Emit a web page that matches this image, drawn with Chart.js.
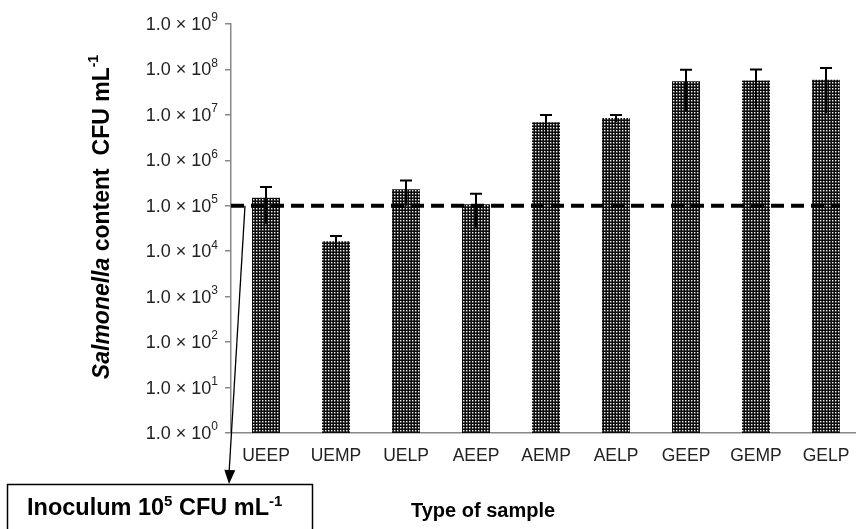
<!DOCTYPE html>
<html>
<head>
<meta charset="utf-8">
<script src="https://cdn.jsdelivr.net/npm/chart.js@4.4.0/dist/chart.umd.min.js"></script>
<style>
  html, body { margin: 0; padding: 0; background: #fff; overflow: hidden; }
  #wrap { width: 862px; height: 529px; position: relative; }
</style>
</head>
<body>
<div id="wrap"><canvas id="c" width="862" height="529"></canvas></div>
<script>
const categories = ['UEEP','UEMP','UELP','AEEP','AEMP','AELP','GEEP','GEMP','GELP'];
const meanCFU = [1.5e5, 1.66e4, 2.3e5, 1.08e5, 6.9e6, 8.5e6, 5.5e7, 5.7e7, 5.9e7];
const sdCFU   = [1.1e5, 0.5e4, 1.3e5, 0.75e5, 3.1e6, 1.5e6, 4.3e7, 4.3e7, 4.8e7];
const inoculum = 1e5;
const tickExponents = [0,1,2,3,4,5,6,7,8,9];

function makePattern(ctx) {
  const p = document.createElement('canvas');
  p.width = 3; p.height = 3;
  const g = p.getContext('2d');
  g.fillStyle = '#0d0d0d';
  g.fillRect(0,0,3,3);
  g.fillStyle = '#f0f0f0';
  g.fillRect(1,1,1,1);
  g.fillStyle = '#6a6a6a';
  g.fillRect(2,1,1,1);
  g.fillRect(1,2,1,1);
  g.fillStyle = '#3a3a3a';
  g.fillRect(2,2,1,1);
  return ctx.createPattern(p, 'repeat');
}

const canvas = document.getElementById('c');
const ctx = canvas.getContext('2d');
const pattern = makePattern(ctx);

const FONT = '"Liberation Sans", Arial, sans-serif';

const decorPlugin = {
  id: 'decor',
  afterDatasetsDraw(chart) {
    const c = chart.ctx;
    const y = chart.scales.y;
    const area = chart.chartArea;
    const meta = chart.getDatasetMeta(0);
    const yi = y.getPixelForValue(inoculum);
    const lastBar = meta.data[meta.data.length - 1];
    c.save();
    c.strokeStyle = '#000';
    c.lineWidth = 4;
    c.setLineDash([13, 7]);
    c.beginPath();
    c.moveTo(area.left, yi);
    c.lineTo(lastBar.x + lastBar.width / 2, yi);
    c.stroke();
    c.restore();
    c.save();
    c.strokeStyle = '#000';
    c.lineWidth = 2;
    meta.data.forEach((bar, i) => {
      const yt = y.getPixelForValue(meanCFU[i] + sdCFU[i]);
      const yb = y.getPixelForValue(Math.max(meanCFU[i] - sdCFU[i], 1));
      c.beginPath();
      c.moveTo(bar.x, yb);
      c.lineTo(bar.x, yt);
      c.moveTo(bar.x - 6, yt);
      c.lineTo(bar.x + 6, yt);
      c.stroke();
    });
    c.restore();
  },
  afterDraw(chart) {
    const c = chart.ctx;
    const y = chart.scales.y;
    c.save();
    c.fillStyle = '#222';
    tickExponents.forEach(e => {
      const py = y.getPixelForValue(Math.pow(10, e));
      const xr = 218;
      c.font = '12px ' + FONT;
      const ew = c.measureText(String(e)).width;
      c.textAlign = 'right';
      c.textBaseline = 'middle';
      c.fillText(String(e), xr, py - 6);
      c.font = '18px ' + FONT;
      c.fillText('1.0 \u00d7 10', xr - ew, py + 1);
    });
    c.restore();

    c.save();
    c.translate(103, 217);
    c.rotate(-Math.PI / 2);
    c.fillStyle = '#000';
    c.textBaseline = 'middle';
    const parts = [
      {t: 'Salmonella', f: 'italic bold 23px ' + FONT, dy: 0},
      {t: ' content  CFU mL', f: 'bold 23px ' + FONT, dy: 0},
      {t: '-1', f: 'bold 14px ' + FONT, dy: -9}
    ];
    let total = 0;
    parts.forEach(p => { c.font = p.f; p.w = c.measureText(p.t).width; total += p.w; });
    let x = -total / 2;
    c.textAlign = 'left';
    parts.forEach(p => { c.font = p.f; c.fillText(p.t, x, p.dy); x += p.w; });
    c.restore();

    c.save();
    c.fillStyle = '#000';
    c.font = 'bold 20px ' + FONT;
    c.textAlign = 'center';
    c.textBaseline = 'alphabetic';
    c.fillText('Type of sample', 483, 517);
    c.restore();

    const yi = y.getPixelForValue(inoculum);
    c.save();
    c.strokeStyle = '#000';
    c.fillStyle = '#000';
    c.lineWidth = 1.3;
    const x0 = 245, y0 = yi, x1 = 229, y1 = 484;
    c.beginPath();
    c.moveTo(x0, y0);
    c.lineTo(x1, y1 - 10);
    c.stroke();
    const ang = Math.atan2(y1 - y0, x1 - x0);
    c.beginPath();
    c.moveTo(x1, y1);
    c.lineTo(x1 - 14 * Math.cos(ang) + 5.5 * Math.sin(ang), y1 - 14 * Math.sin(ang) - 5.5 * Math.cos(ang));
    c.lineTo(x1 - 14 * Math.cos(ang) - 5.5 * Math.sin(ang), y1 - 14 * Math.sin(ang) + 5.5 * Math.cos(ang));
    c.closePath();
    c.fill();
    c.restore();

    c.save();
    c.strokeStyle = '#000';
    c.lineWidth = 1.5;
    c.strokeRect(7.5, 484.5, 305, 60);
    c.fillStyle = '#000';
    c.textBaseline = 'alphabetic';
    c.textAlign = 'left';
    const bparts = [
      {t: 'Inoculum 10', f: 'bold 23.5px ' + FONT, dy: 0},
      {t: '5', f: 'bold 15px ' + FONT, dy: -9},
      {t: ' CFU mL', f: 'bold 23.5px ' + FONT, dy: 0},
      {t: '-1', f: 'bold 15px ' + FONT, dy: -9}
    ];
    let bx = 27;
    bparts.forEach(p => { c.font = p.f; c.fillText(p.t, bx, 515 + p.dy); bx += c.measureText(p.t).width; });
    c.restore();
  }
};

new Chart(ctx, {
  type: 'bar',
  data: {
    labels: categories,
    datasets: [{
      data: meanCFU,
      backgroundColor: pattern,
      borderWidth: 0,
      barPercentage: 0.4,
      categoryPercentage: 1.0
    }]
  },
  options: {
    responsive: false,
    animation: false,
    events: [],
    layout: { padding: { top: 24, left: 0, right: 1, bottom: 0 } },
    plugins: { legend: { display: false }, tooltip: { enabled: false } },
    scales: {
      x: {
        grid: { display: false },
        border: { display: true, color: '#888', width: 1.5 },
        ticks: { color: '#222', font: { family: FONT, size: 17.5 }, padding: 5, maxRotation: 0 },
        afterFit(s) { s.height = 96; }
      },
      y: {
        type: 'logarithmic',
        min: 1,
        max: 1e9,
        afterBuildTicks(s) { s.ticks = tickExponents.map(e => ({ value: Math.pow(10, e) })); },
        grid: { display: true, drawOnChartArea: false, drawTicks: true, tickLength: 6, color: '#888', lineWidth: 1.5 },
        border: { display: true, color: '#888', width: 1.5 },
        ticks: { color: 'rgba(0,0,0,0)', callback: () => '' },
        afterFit(s) { s.width = 231; }
      }
    }
  },
  plugins: [decorPlugin]
});
</script>
</body>
</html>
